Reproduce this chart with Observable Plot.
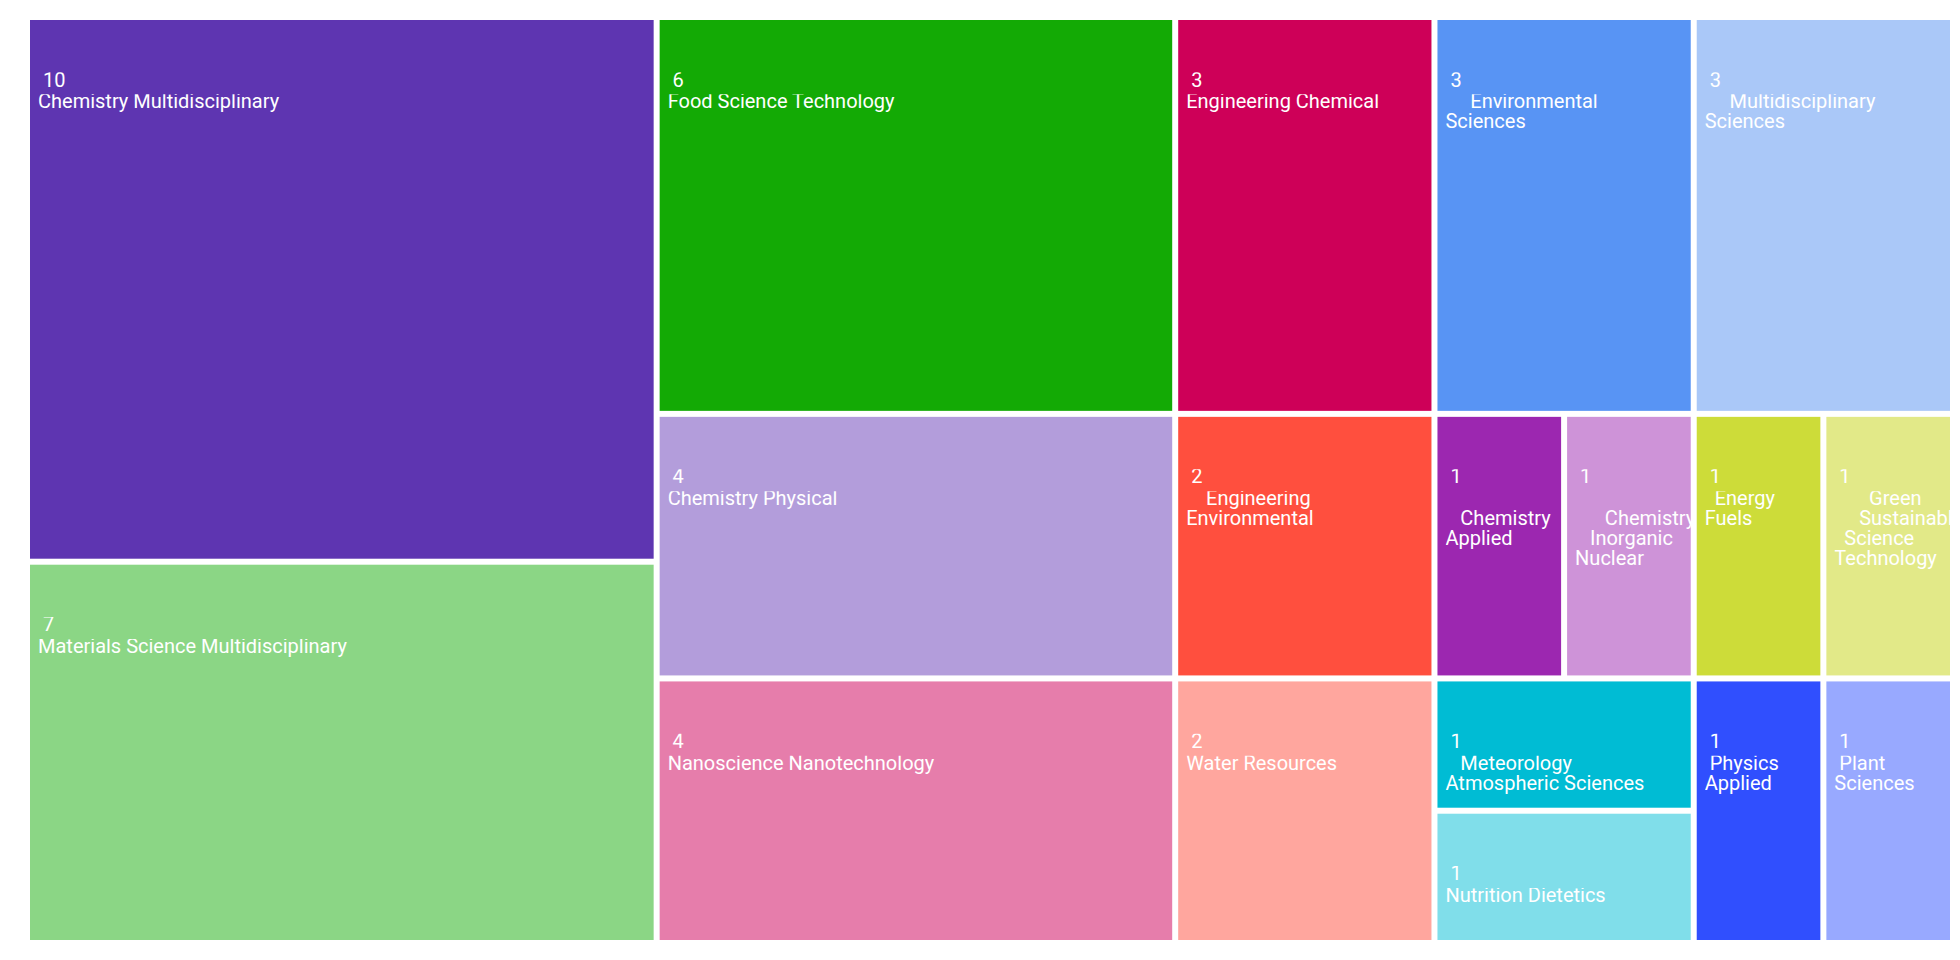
<!DOCTYPE html>
<html>
<head>
<meta charset="utf-8">
<script src="https://cdn.jsdelivr.net/npm/d3@7"></script>
<script src="https://cdn.jsdelivr.net/npm/@observablehq/plot@0.6"></script>
<style>
  html, body { margin: 0; padding: 0; background: #ffffff; }
</style>
</head>
<body>
<div id="chart"></div>
<script>
// ---- data ----
const categories = [
  "Chemistry Multidisciplinary",
  "Materials Science Multidisciplinary",
  "Food Science Technology",
  "Chemistry Physical",
  "Nanoscience Nanotechnology",
  "Engineering Chemical",
  "Environmental Sciences",
  "Multidisciplinary Sciences",
  "Engineering Environmental",
  "Water Resources",
  "Chemistry Applied",
  "Chemistry Inorganic Nuclear",
  "Energy Fuels",
  "Green Sustainable Science Technology",
  "Meteorology Atmospheric Sciences",
  "Nutrition Dietetics",
  "Physics Applied",
  "Plant Sciences"
];
const counts = [10, 7, 6, 4, 4, 3, 3, 3, 2, 2, 1, 1, 1, 1, 1, 1, 1, 1];
// tile label text as displayed (line breaks and indents as in the reference)
const labels = [
  "Chemistry Multidisciplinary",
  "Materials Science Multidisciplinary",
  "Food Science Technology",
  "Chemistry Physical",
  "Nanoscience Nanotechnology",
  "Engineering Chemical",
  "\u00a0\u00a0\u00a0\u00a0\u00a0Environmental\nSciences",
  "\u00a0\u00a0\u00a0\u00a0\u00a0Multidisciplinary\nSciences",
  "\u00a0\u00a0\u00a0\u00a0Engineering\nEnvironmental",
  "Water Resources",
  "\n\u00a0\u00a0\u00a0Chemistry\nApplied",
  "\n\u00a0\u00a0\u00a0\u00a0\u00a0\u00a0Chemistry\n\u00a0\u00a0\u00a0Inorganic\nNuclear",
  "\u00a0\u00a0Energy\nFuels",
  "\u00a0\u00a0\u00a0\u00a0\u00a0\u00a0\u00a0Green\n\u00a0\u00a0\u00a0\u00a0\u00a0Sustainable\n\u00a0\u00a0Science\nTechnology",
  "\u00a0\u00a0\u00a0Meteorology\nAtmospheric Sciences",
  "Nutrition Dietetics",
  "\u00a0Physics\nApplied",
  "\u00a0Plant\nSciences"
];
const palette = [
  "#5e35b1", "#8bd685", "#13aa05", "#b39ddb", "#e67dab",
  "#ce0058", "#5894f4", "#aac8f8", "#ff4f3e", "#ffa69e",
  "#9c27b0", "#ce93d8", "#cddc39", "#e2e988", "#00bcd4",
  "#80deea", "#304ffe", "#98a9ff"
];

// ---- layout ----
const W = 1920, H = 920;
const rows = categories.map((name, i) => ({name, value: counts[i], label: labels[i]}));
const root = d3.hierarchy({children: rows})
  .sum(d => d.value)
  .sort((a, b) => (b.value - a.value) || d3.ascending(a.data.name, b.data.name));
d3.treemap().tile(d3.treemapSquarify).size([W, H]).paddingInner(6)(root);
const leaves = root.leaves().map(n => ({...n.data, x0: n.x0, x1: n.x1, y0: n.y0, y1: n.y1}));

const chart = Plot.plot({
  width: 1960,
  height: 960,
  marginLeft: 30, marginRight: 10, marginTop: 20, marginBottom: 20,
  x: {domain: [0, W], range: [30, 1950], axis: null},
  y: {domain: [0, H], range: [20, 940], axis: null},
  color: {domain: categories, range: palette},
  style: {fontFamily: "Roboto, 'Noto Sans', sans-serif", background: "#ffffff"},
  marks: [
    Plot.rect(leaves, {x1: "x0", x2: "x1", y1: "y0", y2: "y1", fill: "name"}),
    Plot.text(leaves, {
      x: "x0", y: "y0", text: d => "\u00a0" + d.value,
      textAnchor: "start", lineAnchor: "top", dx: 7.5, dy: 51.8,
      fill: "white", fontSize: 20
    }),
    Plot.text(leaves, {
      x: "x0", y: "y0", text: "label",
      textAnchor: "start", lineAnchor: "top", dx: 7.5, dy: 73.8, lineHeight: 0.99,
      fill: "white", fontSize: 20
    })
  ]
});
document.getElementById("chart").appendChild(chart);

// clip each label to its tile
const sx = chart.scale("x"), sy = chart.scale("y");
const svg = d3.select(chart);
const defs = svg.insert("defs", ":first-child");
leaves.forEach((d, i) => {
  defs.append("clipPath").attr("id", `tile-clip-${i}`).append("rect")
    .attr("x", sx.apply(d.x0)).attr("y", sy.apply(d.y0))
    .attr("width", sx.apply(d.x1) - sx.apply(d.x0))
    .attr("height", sy.apply(d.y1) - sy.apply(d.y0));
});
svg.selectAll('g[aria-label="text"]').each(function () {
  d3.select(this).selectAll(":scope > text").each(function (_, i) {
    const g = document.createElementNS("http://www.w3.org/2000/svg", "g");
    g.setAttribute("clip-path", `url(#tile-clip-${i})`);
    this.parentNode.insertBefore(g, this);
    g.appendChild(this);
  });
});
</script>
</body>
</html>
